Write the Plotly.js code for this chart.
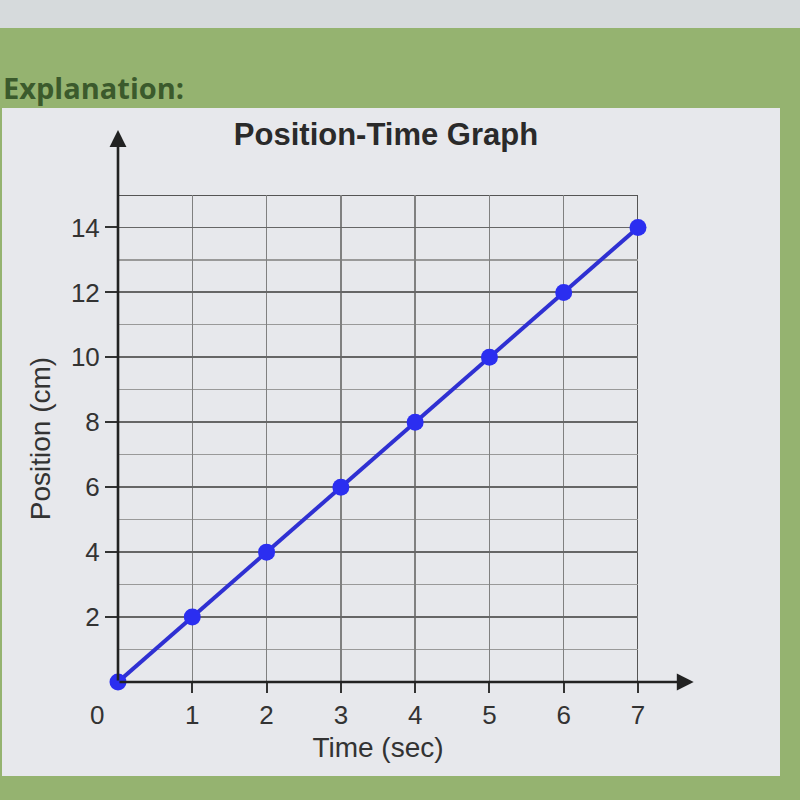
<!DOCTYPE html>
<html>
<head>
<meta charset="utf-8">
<script src="https://cdn.plot.ly/plotly-3.0.1.min.js"></script>
<style>html,body{margin:0;padding:0;background:#97b47a;}#chart{width:800px;height:800px;}</style>
</head>
<body>
<div id="chart"></div>
<script>
// Data
const timeSec = [0, 1, 2, 3, 4, 5, 6, 7];
const positionCm = [0, 2, 4, 6, 8, 10, 12, 14];
const xTickVals = [1, 2, 3, 4, 5, 6, 7];
const yTickVals = [2, 4, 6, 8, 10, 12, 14];
const chartTitle = 'Position-Time Graph';
const xTitle = 'Time (sec)';
const yTitle = 'Position (cm)';
const headerText = 'Explanation:';

// plot area in pixels: left 118, right 638, top 195, bottom 682
const L = 118, R = 162, T = 195, B = 118;
const W = 800 - L - R, H = 800 - T - B;
const px = v => (v - L) / W;          // pixel x -> paper x
const py = v => (800 - B - v) / H;    // pixel y -> paper y

const trace = {
  x: timeSec, y: positionCm, type: 'scatter', mode: 'lines+markers',
  line: {color: '#2f30d2', width: 4},
  marker: {color: '#2b2ef0', size: 17},
  cliponaxis: false, hoverinfo: 'none'
};

const layout = {
  width: 800, height: 800,
  margin: {l: L, r: R, t: T, b: B, pad: 0},
  paper_bgcolor: '#95b370',
  plot_bgcolor: 'rgba(0,0,0,0)',
  showlegend: false,
  font: {family: 'Liberation Sans, Arial, sans-serif', color: '#333'},
  title: {
    text: '<b>' + chartTitle + '</b>',
    font: {size: 31, color: '#2a2a2a', family: 'Liberation Sans, Arial, sans-serif'},
    x: 386 / 800, xanchor: 'center', xref: 'container',
    y: 1 - 134 / 800, yanchor: 'middle', yref: 'container'
  },
  xaxis: {
    range: [0, 7], tickvals: xTickVals, ticktext: xTickVals.map(String),
    ticks: 'outside', ticklen: 10, tickwidth: 2, tickcolor: '#333',
    tickfont: {size: 26, color: '#333'},
    showgrid: true, gridcolor: '#808080', gridwidth: 1.5,
    zeroline: false, showline: false,
    title: {text: xTitle, font: {size: 28, color: '#333'}, standoff: 8},
    fixedrange: true
  },
  yaxis: {
    range: [0, 15], tickvals: yTickVals, ticktext: yTickVals.map(String),
    ticks: 'outside', ticklen: 12, tickwidth: 2, tickcolor: '#333',
    tickfont: {size: 26, color: '#333'},
    showgrid: true, gridcolor: '#666', gridwidth: 1.8,
    minor: {dtick: 1, tick0: 0, showgrid: true, gridcolor: '#999', gridwidth: 1.2, ticks: ''},
    zeroline: false, showline: false,
    title: {text: yTitle, font: {size: 28, color: '#333'}, standoff: 12},
    fixedrange: true
  },
  shapes: [
    // top gray strip
    {type: 'rect', xref: 'paper', yref: 'paper', x0: px(-10), x1: px(810), y0: py(-10), y1: py(28),
     fillcolor: '#d6dadc', line: {width: 0}, layer: 'below'},
    // white chart panel
    {type: 'rect', xref: 'paper', yref: 'paper', x0: px(2), x1: px(780), y0: py(108), y1: py(776),
     fillcolor: '#e7e8ec', line: {width: 0}, layer: 'below'},
    // frame top/right
    {type: 'rect', xref: 'x', yref: 'y', x0: 0, x1: 7, y0: 0, y1: 15,
     line: {color: '#555', width: 2}, layer: 'below'}
  ],
  annotations: [
    {text: '<b>' + headerText + '</b>', xref: 'paper', yref: 'paper', x: px(1), y: py(87),
     xanchor: 'left', yanchor: 'middle', showarrow: false,
     font: {family: 'Open Sans, sans-serif', size: 29, color: '#3b5a2c'}},
    // y axis with arrow
    {x: 0, y: 17.0, ax: 0, ay: 0, xref: 'x', yref: 'y', axref: 'x', ayref: 'y', text: '',
     showarrow: true, arrowhead: 2, arrowsize: 1.3, arrowwidth: 2.6, arrowcolor: '#222'},
    // x axis with arrow
    {x: 7.75, y: 0, ax: 0, ay: 0, xref: 'x', yref: 'y', axref: 'x', ayref: 'y', text: '',
     showarrow: true, arrowhead: 2, arrowsize: 1.3, arrowwidth: 2.6, arrowcolor: '#222'},
    // origin label
    {text: '0', x: 0, y: 0, xref: 'x', yref: 'y', xshift: -21, yshift: -33, showarrow: false,
     font: {size: 26, color: '#333'}}
  ]
};

Plotly.newPlot('chart', [trace], layout, {displayModeBar: false, staticPlot: true});
</script>
</body>
</html>
